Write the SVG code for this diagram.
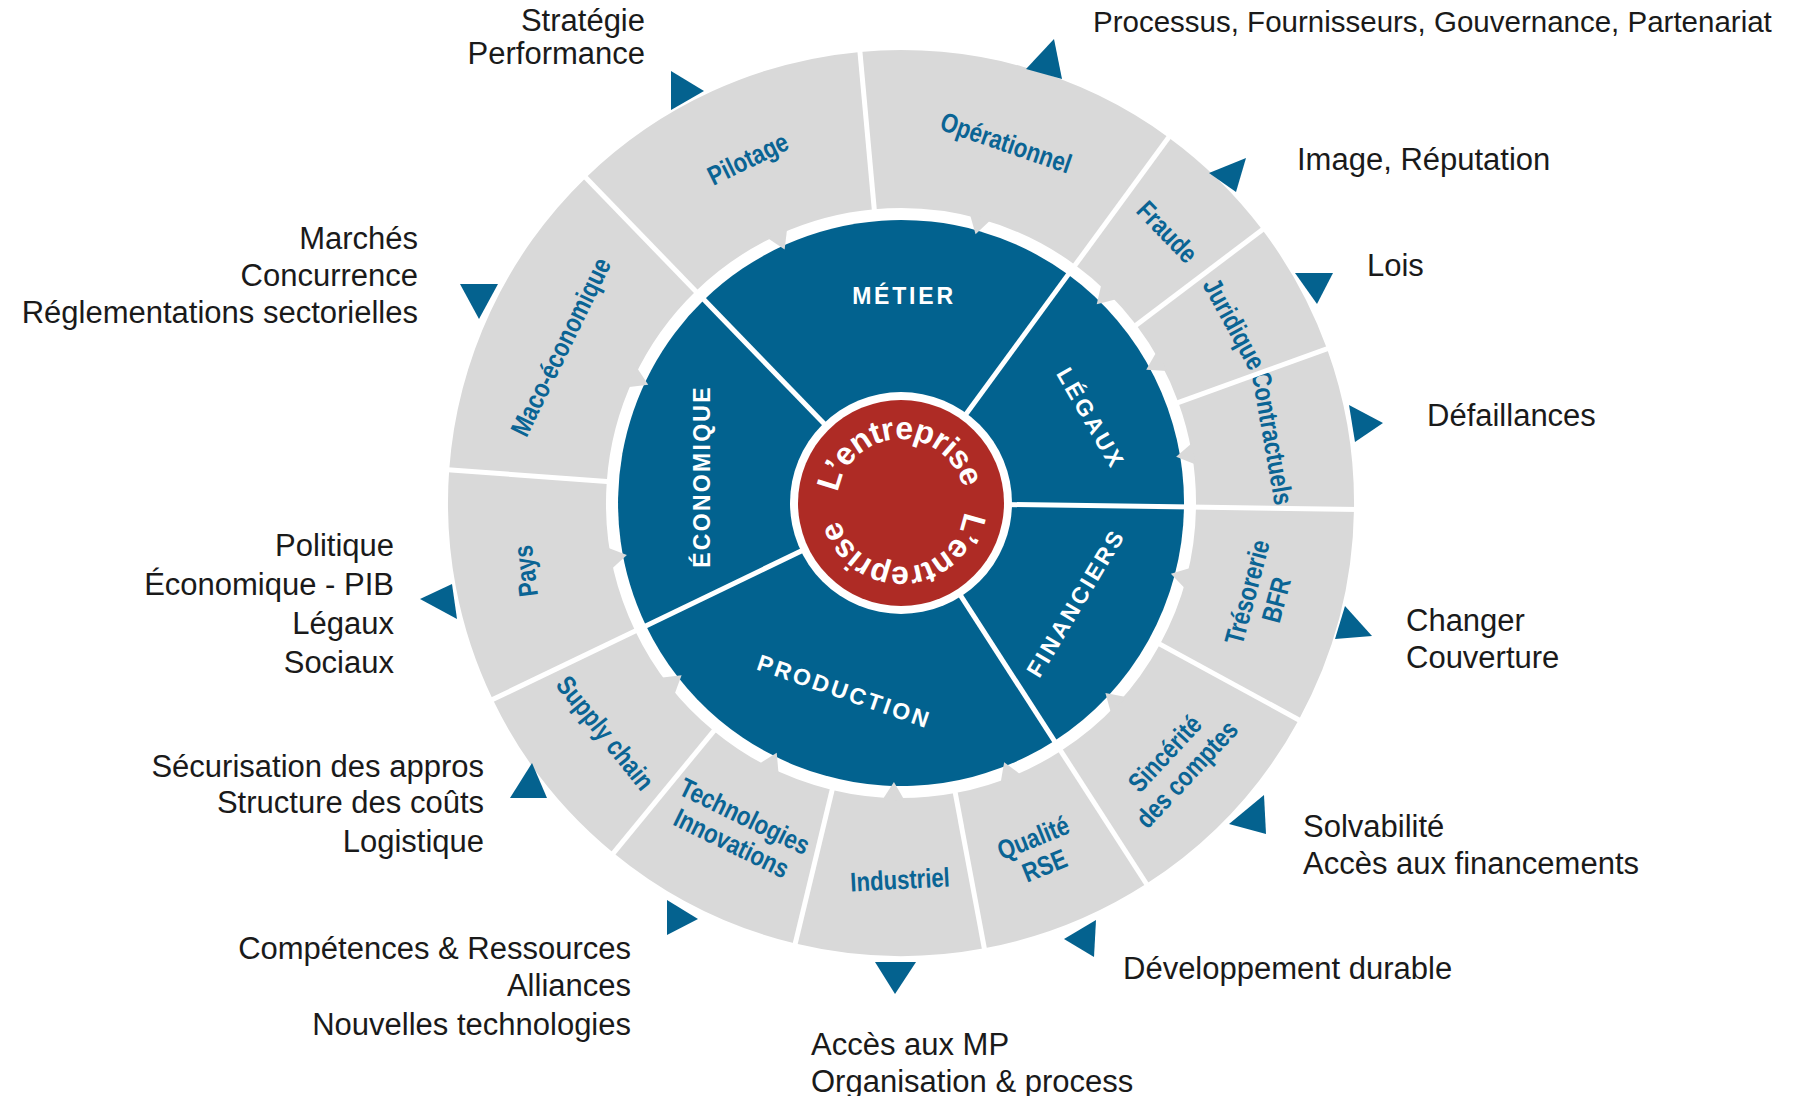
<svg xmlns="http://www.w3.org/2000/svg" width="1813" height="1096" viewBox="0 0 1813 1096">
  <defs>
    <style>
      .blue{fill:#02628f}
      .gray{fill:#d9d9d9}
      .div{stroke:#fff;stroke-width:5;fill:none}
      .seg{font-family:"Liberation Sans",Arial,sans-serif;font-weight:bold;font-size:23px;fill:#fff;letter-spacing:2.8px;text-anchor:middle}
      .sub{font-family:"Liberation Sans",Arial,sans-serif;font-weight:bold;font-size:27px;fill:#0a6494;text-anchor:middle}
      .out{font-family:"Liberation Sans",Arial,sans-serif;font-size:31px;fill:#1a1a1a}
      .end{text-anchor:end}
      .tri{fill:#04628f}
      .ent{font-family:"Liberation Sans",Arial,sans-serif;font-weight:bold;font-size:32px;letter-spacing:-0.6px;fill:#fff;text-anchor:middle}
    </style>
    <!-- clockwise circle for the centre lettering, starting at the left point -->
    <path id="entPath" d="M 837,503 A 64,64 0 1,1 965,503 A 64,64 0 1,1 837,503"/>
  </defs>

  <rect width="1813" height="1096" fill="#fff"/>

  <!-- inner ring: five blue families -->
  <g id="metier">
    <path class="blue" d="M 901,503 L 704.1,299.8 A 283,283 0 0,1 1068.1,274.6 Z"/>
    <text class="seg" x="904" y="304">MÉTIER</text>
  </g>
  <g id="legaux">
    <path class="blue" d="M 901,503 L 1068.1,274.6 A 283,283 0 0,1 1184.0,507.0 Z"/>
    <text class="seg" transform="translate(1090,417) rotate(60)" x="1.5" y="8">LÉGAUX</text>
  </g>
  <g id="financiers">
    <path class="blue" d="M 901,503 L 1184.0,507.0 A 283,283 0 0,1 1054.3,740.9 Z"/>
    <text class="seg" transform="translate(1075,604) rotate(-59)" x="1.5" y="8">FINANCIERS</text>
  </g>
  <g id="production">
    <path class="blue" d="M 901,503 L 1054.3,740.9 A 283,283 0 0,1 646.0,625.7 Z"/>
    <text class="seg" transform="translate(843,691) rotate(19)" x="1.5" y="8">PRODUCTION</text>
  </g>
  <g id="economique">
    <path class="blue" d="M 901,503 L 646.0,625.7 A 283,283 0 0,1 704.1,299.8 Z"/>
    <text class="seg" transform="translate(702,478) rotate(-90)" x="1.5" y="8" style="letter-spacing:2.3px">ÉCONOMIQUE</text>
  </g>
  <g id="inner-dividers" transform="translate(901 503)">
    <line class="div" x1="0" y1="0" x2="292" y2="0" transform="rotate(-134.1)"/>
    <line class="div" x1="0" y1="0" x2="292" y2="0" transform="rotate(-53.8)"/>
    <line class="div" x1="0" y1="0" x2="292" y2="0" transform="rotate(0.8)"/>
    <line class="div" x1="0" y1="0" x2="292" y2="0" transform="rotate(57.2)"/>
    <line class="div" x1="0" y1="0" x2="292" y2="0" transform="rotate(154.3)"/>
  </g>

  <!-- outer ring: thirteen grey risk areas, each with an inward tab -->
  <g id="pilotage">
    <path class="gray" d="M 585.8,177.7 A 453,453 0 0,1 860.0,51.9 L 874.3,209.2 A 295,295 0 0,0 695.7,291.2 Z"/>
    <polygon class="gray" transform="translate(901 503) rotate(-114.65)" points="297,-11 297,11 279,0"/>
    <text class="sub" transform="translate(748,159) rotate(-26) scale(0.82,1)" y="9">Pilotage</text>
  </g>
  <g id="operationnel">
    <path class="gray" d="M 860.0,51.9 A 453,453 0 0,1 1168.5,137.4 L 1075.2,264.9 A 295,295 0 0,0 874.3,209.2 Z"/>
    <polygon class="gray" transform="translate(901 503) rotate(-74.5)" points="297,-11 297,11 279,0"/>
    <text class="sub" transform="translate(1006,143) rotate(19) scale(0.82,1)" y="9">Opérationnel</text>
  </g>
  <g id="fraude">
    <path class="gray" d="M 1168.5,137.4 A 453,453 0 0,1 1262.3,229.8 L 1136.3,325.1 A 295,295 0 0,0 1075.2,264.9 Z"/>
    <polygon class="gray" transform="translate(901 503) rotate(-45.45)" points="297,-11 297,11 279,0"/>
    <text class="sub" transform="translate(1167,232) rotate(46) scale(0.82,1)" y="9">Fraude</text>
  </g>
  <g id="juridique">
    <path class="gray" d="M 1262.3,229.8 A 453,453 0 0,1 1327.0,348.8 L 1178.4,402.6 A 295,295 0 0,0 1136.3,325.1 Z"/>
    <polygon class="gray" transform="translate(901 503) rotate(-28.5)" points="297,-11 297,11 279,0"/>
    <text class="sub" transform="translate(1234,324) rotate(61) scale(0.82,1)" y="9">Juridique</text>
  </g>
  <g id="contractuels">
    <path class="gray" d="M 1327.0,348.8 A 453,453 0 0,1 1354.0,509.3 L 1196.0,507.1 A 295,295 0 0,0 1178.4,402.6 Z"/>
    <polygon class="gray" transform="translate(901 503) rotate(-9.55)" points="297,-11 297,11 279,0"/>
    <text class="sub" transform="translate(1272,438) rotate(80) scale(0.82,1)" y="9">Contractuels</text>
  </g>
  <g id="tresorerie">
    <path class="gray" d="M 1354.0,509.3 A 453,453 0 0,1 1298.7,719.9 L 1160.0,644.2 A 295,295 0 0,0 1196.0,507.1 Z"/>
    <polygon class="gray" transform="translate(901 503) rotate(14.7)" points="297,-11 297,11 279,0"/>
    <text class="sub" transform="translate(1262,596) rotate(-75) scale(0.82,1)"><tspan x="0" y="-6">Trésorerie</tspan><tspan x="0" y="24">BFR</tspan></text>
  </g>
  <g id="sincerite">
    <path class="gray" d="M 1298.7,719.9 A 453,453 0 0,1 1146.4,883.8 L 1060.8,751.0 A 295,295 0 0,0 1160.0,644.2 Z"/>
    <polygon class="gray" transform="translate(901 503) rotate(42.9)" points="297,-11 297,11 279,0"/>
    <text class="sub" transform="translate(1176,764) rotate(-47) scale(0.82,1)"><tspan x="0" y="-6">Sincérité</tspan><tspan x="0" y="24">des comptes</tspan></text>
  </g>
  <g id="qualite">
    <path class="gray" d="M 1146.4,883.8 A 453,453 0 0,1 984.4,948.3 L 955.3,793.0 A 295,295 0 0,0 1060.8,751.0 Z"/>
    <polygon class="gray" transform="translate(901 503) rotate(68.3)" points="297,-11 297,11 279,0"/>
    <text class="sub" transform="translate(1039,852) rotate(-22) scale(0.82,1)"><tspan x="0" y="-6">Qualité</tspan><tspan x="0" y="24">RSE</tspan></text>
  </g>
  <g id="industriel">
    <path class="gray" d="M 984.4,948.3 A 453,453 0 0,1 795.3,943.5 L 832.1,789.9 A 295,295 0 0,0 955.3,793.0 Z"/>
    <polygon class="gray" transform="translate(901 503) rotate(91.45)" points="297,-11 297,11 279,0"/>
    <text class="sub" transform="translate(900,880) rotate(-3) scale(0.82,1)" y="9">Industriel</text>
  </g>
  <g id="technologies">
    <path class="gray" d="M 795.3,943.5 A 453,453 0 0,1 613.5,853.0 L 713.8,730.9 A 295,295 0 0,0 832.1,789.9 Z"/>
    <polygon class="gray" transform="translate(901 503) rotate(116.45)" points="297,-11 297,11 279,0"/>
    <text class="sub" transform="translate(738,830) rotate(26) scale(0.82,1)"><tspan x="0" y="-6">Technologies</tspan><tspan x="0" y="24">Innovations</tspan></text>
  </g>
  <g id="supply-chain">
    <path class="gray" d="M 613.5,853.0 A 453,453 0 0,1 492.8,699.5 L 635.2,630.9 A 295,295 0 0,0 713.8,730.9 Z"/>
    <polygon class="gray" transform="translate(901 503) rotate(141.85)" points="297,-11 297,11 279,0"/>
    <text class="sub" transform="translate(605,733) rotate(51) scale(0.82,1)" y="9">Supply chain</text>
  </g>
  <g id="pays">
    <path class="gray" d="M 492.8,699.5 A 453,453 0 0,1 449.2,469.8 L 606.8,481.4 A 295,295 0 0,0 635.2,630.9 Z"/>
    <polygon class="gray" transform="translate(901 503) rotate(169.25)" points="297,-11 297,11 279,0"/>
    <text class="sub" transform="translate(526,571) rotate(-97) scale(0.82,1)" y="9">Pays</text>
  </g>
  <g id="maco-economique">
    <path class="gray" d="M 449.2,469.8 A 453,453 0 0,1 585.8,177.7 L 695.7,291.2 A 295,295 0 0,0 606.8,481.4 Z"/>
    <polygon class="gray" transform="translate(901 503) rotate(205.05)" points="297,-11 297,11 279,0"/>
    <text class="sub" transform="translate(561,347) rotate(-64) scale(0.82,1)" y="9">Maco-économique</text>
  </g>
  <g id="outer-dividers" transform="translate(901 503)">
    <line class="div" x1="288" y1="0" x2="458" y2="0" transform="rotate(-134.1)"/>
    <line class="div" x1="288" y1="0" x2="458" y2="0" transform="rotate(-95.2)"/>
    <line class="div" x1="288" y1="0" x2="458" y2="0" transform="rotate(-53.8)"/>
    <line class="div" x1="288" y1="0" x2="458" y2="0" transform="rotate(-37.1)"/>
    <line class="div" x1="288" y1="0" x2="458" y2="0" transform="rotate(-19.9)"/>
    <line class="div" x1="288" y1="0" x2="458" y2="0" transform="rotate(0.8)"/>
    <line class="div" x1="288" y1="0" x2="458" y2="0" transform="rotate(28.6)"/>
    <line class="div" x1="288" y1="0" x2="458" y2="0" transform="rotate(57.2)"/>
    <line class="div" x1="288" y1="0" x2="458" y2="0" transform="rotate(79.4)"/>
    <line class="div" x1="288" y1="0" x2="458" y2="0" transform="rotate(103.5)"/>
    <line class="div" x1="288" y1="0" x2="458" y2="0" transform="rotate(129.4)"/>
    <line class="div" x1="288" y1="0" x2="458" y2="0" transform="rotate(154.3)"/>
    <line class="div" x1="288" y1="0" x2="458" y2="0" transform="rotate(184.2)"/>
  </g>

  <!-- centre -->
  <g id="entreprise">
    <circle cx="901" cy="503" r="111" fill="#fff"/>
    <circle cx="901" cy="503" r="103" fill="#ae2b25"/>
    <text class="ent"><textPath href="#entPath" startOffset="24.4%">L’entreprise</textPath></text>
    <text class="ent"><textPath href="#entPath" startOffset="73.9%">L’entreprise</textPath></text>
  </g>

  <!-- pointers from each area to its issues -->
  <g id="connectors">
    <polygon class="tri" points="671,71 671,110 704,91"/>
    <polygon class="tri" points="1026,69 1062,79 1054,39"/>
    <polygon class="tri" points="1209,173 1246,158 1236,192"/>
    <polygon class="tri" points="1295,273 1333,273 1317,304"/>
    <polygon class="tri" points="1349,405 1383,423 1355,442"/>
    <polygon class="tri" points="1335,639 1372,636 1345,606"/>
    <polygon class="tri" points="1229,824 1264,795 1266,834"/>
    <polygon class="tri" points="1064,939 1096,920 1094,957"/>
    <polygon class="tri" points="875,962 916,962 895,994"/>
    <polygon class="tri" points="667,900 667,935 698,919"/>
    <polygon class="tri" points="510,798 547,798 532,763"/>
    <polygon class="tri" points="420,599 452,584 457,619"/>
    <polygon class="tri" points="460,284 498,284 479,319"/>
  </g>

  <!-- issue lists -->
  <g id="issues-pilotage"><text class="out end"><tspan x="645" y="31">Stratégie</tspan><tspan x="645" y="64">Performance</tspan></text></g>
  <g id="issues-operationnel"><text class="out" x="1093" y="32" style="font-size:29.5px">Processus, Fournisseurs, Gouvernance, Partenariat</text></g>
  <g id="issues-fraude"><text class="out" x="1297" y="170">Image, Réputation</text></g>
  <g id="issues-juridique"><text class="out" x="1367" y="276">Lois</text></g>
  <g id="issues-contractuels"><text class="out" x="1427" y="426">Défaillances</text></g>
  <g id="issues-tresorerie"><text class="out"><tspan x="1406" y="631">Changer</tspan><tspan x="1406" y="668">Couverture</tspan></text></g>
  <g id="issues-sincerite"><text class="out"><tspan x="1303" y="837">Solvabilité</tspan><tspan x="1303" y="874">Accès aux financements</tspan></text></g>
  <g id="issues-qualite"><text class="out" x="1123" y="979">Développement durable</text></g>
  <g id="issues-industriel"><text class="out"><tspan x="811" y="1055">Accès aux MP</tspan><tspan x="811" y="1092">Organisation &amp; process</tspan></text></g>
  <g id="issues-technologies"><text class="out end"><tspan x="631" y="959">Compétences &amp; Ressources</tspan><tspan x="631" y="996">Alliances</tspan><tspan x="631" y="1035">Nouvelles technologies</tspan></text></g>
  <g id="issues-supply"><text class="out end"><tspan x="484" y="777">Sécurisation des appros</tspan><tspan x="484" y="813">Structure des coûts</tspan><tspan x="484" y="852">Logistique</tspan></text></g>
  <g id="issues-pays"><text class="out end"><tspan x="394" y="556">Politique</tspan><tspan x="394" y="595">Économique - PIB</tspan><tspan x="394" y="634">Légaux</tspan><tspan x="394" y="673">Sociaux</tspan></text></g>
  <g id="issues-maco"><text class="out end"><tspan x="418" y="249">Marchés</tspan><tspan x="418" y="286">Concurrence</tspan><tspan x="418" y="323">Réglementations sectorielles</tspan></text></g>
</svg>
